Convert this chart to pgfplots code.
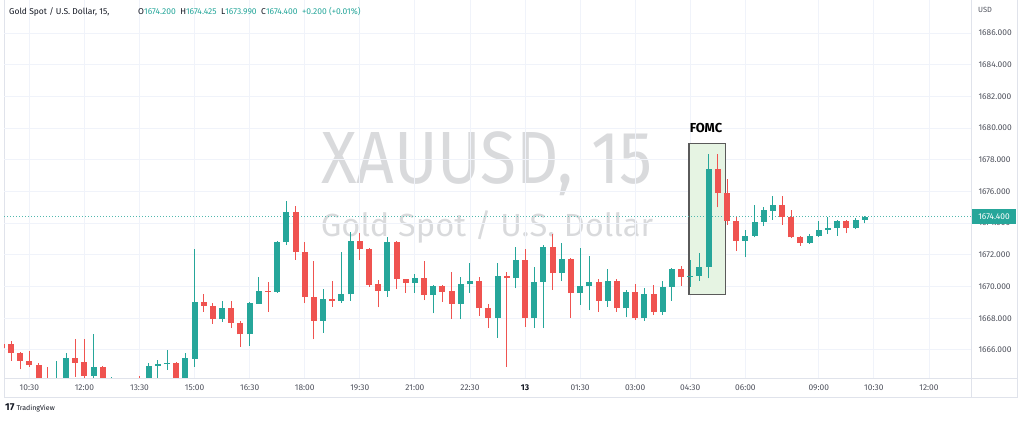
\documentclass[border=0pt]{standalone}
\usepackage{fontspec}
\setmainfont{Fira Sans}
\usepackage{pgfplots}
\usepackage{pgfplotstable}
\pgfplotsset{compat=1.18}

\definecolor{upc}{HTML}{26A69A}
\definecolor{dnc}{HTML}{EF5350}
\definecolor{gridc}{HTML}{F0F3FA}
\definecolor{framec}{HTML}{E0E3EB}
\definecolor{labc}{HTML}{50535E}
\definecolor{txtc}{HTML}{131722}
\definecolor{wmc}{HTML}{D9DADC}
\definecolor{fomcfill}{HTML}{E6F4E3}
\definecolor{fomcdraw}{HTML}{5A5A5A}

% 15-minute candles, k = candle index (k=0 -> 09:45)
\pgfplotstableread{
k o h l c
6 1663.50 1665.33 1663.30 1664.10
7 1664.00 1665.79 1663.80 1665.52
10 1664.38 1667.01 1664.20 1664.95
12 1663.50 1664.30 1663.30 1663.90
14 1663.40 1664.10 1663.20 1663.90
16 1663.60 1665.16 1663.50 1665.01
17 1664.99 1665.37 1664.00 1665.10
18 1665.10 1665.98 1664.74 1665.20
20 1664.10 1665.79 1663.90 1665.48
21 1665.43 1672.36 1664.95 1669.05
24 1667.94 1669.09 1667.77 1668.67
27 1666.99 1669.00 1666.25 1668.95
28 1668.90 1670.59 1668.90 1669.75
30 1669.66 1672.85 1669.60 1672.83
31 1672.80 1675.40 1672.62 1674.71
35 1667.83 1669.85 1667.09 1669.20
37 1669.09 1672.20 1668.98 1669.53
38 1669.51 1673.46 1669.09 1672.90
42 1669.74 1673.15 1669.36 1672.83
45 1670.23 1670.78 1669.62 1670.52
47 1669.47 1670.10 1668.31 1670.02
50 1668.92 1670.63 1667.94 1670.14
51 1670.14 1671.51 1669.62 1670.37
54 1668.04 1671.51 1666.78 1670.67
56 1670.52 1672.48 1669.89 1671.68
58 1668.04 1671.26 1667.37 1670.29
59 1670.29 1672.60 1667.37 1672.52
61 1670.84 1672.73 1670.35 1671.72
63 1669.58 1672.42 1668.84 1670.04
64 1670.04 1671.90 1668.50 1670.27
66 1669.11 1671.09 1668.73 1670.35
68 1668.63 1669.80 1668.06 1669.64
70 1668.00 1669.90 1667.85 1669.51
72 1668.42 1670.37 1668.21 1670.00
73 1670.00 1671.20 1669.11 1671.09
75 1670.60 1671.68 1670.00 1670.69
76 1670.67 1672.10 1670.37 1671.26
77 1671.26 1678.35 1670.52 1677.40
81 1672.88 1673.57 1671.85 1673.19
82 1673.19 1675.13 1673.10 1674.06
83 1674.06 1675.04 1673.82 1674.81
84 1674.79 1675.74 1674.20 1675.17
88 1672.77 1673.30 1672.70 1673.21
89 1673.21 1674.14 1673.15 1673.57
90 1673.57 1674.37 1673.31 1673.68
91 1673.68 1674.20 1673.21 1674.14
93 1673.68 1674.30 1673.60 1674.20
94 1674.20 1674.425 1673.99 1674.40
}\upcandles

\pgfplotstableread{
k o h l c
0 1666.40 1666.45 1665.90 1666.10
1 1666.37 1666.59 1665.33 1665.80
2 1665.79 1665.90 1664.78 1665.31
3 1665.33 1665.94 1664.95 1665.05
4 1665.07 1665.16 1663.80 1664.00
5 1664.10 1664.95 1663.50 1663.70
8 1665.52 1666.69 1664.30 1665.20
9 1665.22 1666.69 1664.25 1664.38
11 1664.95 1665.00 1663.80 1664.00
13 1663.80 1664.00 1663.20 1663.40
15 1663.90 1664.36 1663.40 1663.60
19 1665.20 1665.24 1663.90 1664.10
22 1669.05 1669.51 1668.42 1668.78
23 1668.78 1668.95 1667.64 1667.94
25 1668.67 1669.09 1667.37 1667.72
26 1667.72 1667.83 1666.21 1666.99
29 1669.75 1670.31 1668.42 1669.68
32 1674.71 1675.10 1671.68 1672.17
33 1672.17 1672.80 1668.95 1669.33
34 1669.33 1671.62 1666.67 1667.83
36 1669.20 1670.37 1668.73 1669.11
39 1672.90 1673.40 1671.66 1672.39
40 1672.39 1672.45 1670.00 1670.10
41 1670.14 1670.42 1668.69 1669.74
43 1672.83 1672.90 1669.83 1670.46
44 1670.46 1670.50 1669.62 1670.23
46 1670.56 1671.64 1669.15 1669.47
48 1670.02 1670.10 1669.05 1669.68
49 1669.70 1670.94 1667.94 1668.92
52 1670.37 1670.60 1668.15 1668.63
53 1668.63 1668.90 1667.37 1668.04
55 1670.67 1670.90 1664.95 1670.52
57 1671.68 1672.37 1667.47 1668.04
60 1672.52 1673.30 1669.79 1670.84
62 1671.72 1671.80 1668.00 1669.58
65 1670.27 1670.50 1668.42 1669.11
67 1670.35 1670.50 1668.42 1668.63
69 1669.64 1670.16 1667.90 1668.00
71 1669.51 1670.08 1668.21 1668.42
74 1671.09 1671.30 1670.04 1670.59
78 1677.40 1678.37 1675.00 1675.89
79 1675.93 1676.77 1673.89 1674.14
80 1674.14 1674.40 1672.27 1672.88
85 1675.17 1675.74 1673.89 1674.37
86 1674.41 1674.83 1673.05 1673.11
87 1673.15 1673.20 1672.58 1672.77
92 1674.14 1674.20 1673.36 1673.68
}\downcandles

\begin{document}
\begin{tikzpicture}[x=1pt,y=1pt]
\useasboundingbox (0,0) rectangle (1024,420);

% watermark
\node[text=wmc, font=\fontsize{74}{74}\selectfont, xscale=0.89] at (487,256) {XAUUSD, 15};
\node[text=wmc, font=\fontsize{32}{32}\selectfont, xscale=1.02] at (487,193) {Gold Spot / U.S. Dollar};

% chart frame
\draw[framec, line width=0.8pt] (4,420) -- (4,23) -- (1017,23) -- (1017,420);
\draw[framec, line width=0.8pt] (4,42) -- (1017,42);
\draw[framec, line width=0.8pt] (971,420) -- (971,23);

\begin{axis}[
  at={(4pt,42pt)}, anchor=south west,
  scale only axis, width=967pt, height=378pt,
  xmin=0.237, xmax=105.58, ymin=1664.23, ymax=1688.08,
  axis line style={draw=none},
  major tick length=0pt,
  xtick={3,9,15,21,27,33,39,45,51,57,63,69,75,81,89,95,101},
  xticklabels={10:30,12:00,13:30,15:00,16:30,18:00,19:30,21:00,22:30,{\textcolor{txtc}{\bfseries 13}},01:30,03:00,04:30,06:00,09:00,10:30,12:00},
  ytick={1666,1668,...,1686},
  yticklabel pos=right,
  yticklabel={\pgfmathprintnumber[fixed,fixed zerofill,precision=3,1000 sep={},assume math mode=true]{\tick}},
  grid=major,
  major grid style={gridc, line width=0.9pt},
  tick label style={font=\fontsize{8.4}{10}\selectfont, text=labc},
  xticklabel style={yshift=-3.5pt},
  yticklabel style={xshift=4pt},
]
% FOMC box
\addplot[fill=fomcfill, draw=fomcdraw, line width=1.1pt] coordinates {(74.86,1669.47) (78.79,1669.47) (78.79,1679.04) (74.86,1679.04)} -- cycle;

% last price line
\addplot[upc!80, dash pattern=on 1pt off 2pt, line width=0.7pt] coordinates {(0.237,1674.40) (105.58,1674.40)};

% wicks
\addplot[draw=none, mark=none, error bars/.cd, y dir=plus, y explicit, error mark=none,
  error bar style={draw=upc, line width=1pt}]
  table[x=k, y=l, y error plus expr={\thisrow{h}-\thisrow{l}}] {\upcandles};
\addplot[draw=none, mark=none, error bars/.cd, y dir=plus, y explicit, error mark=none,
  error bar style={draw=dnc, line width=1pt}]
  table[x=k, y=l, y error plus expr={\thisrow{h}-\thisrow{l}}] {\downcandles};
% bodies
\addplot[draw=none, mark=none, error bars/.cd, y dir=plus, y explicit, error mark=none,
  error bar style={draw=upc, line width=6pt}]
  table[x=k, y=o, y error plus expr={max(\thisrow{c}-\thisrow{o},0.07)}] {\upcandles};
\addplot[draw=none, mark=none, error bars/.cd, y dir=plus, y explicit, error mark=none,
  error bar style={draw=dnc, line width=6pt}]
  table[x=k, y=c, y error plus expr={max(\thisrow{o}-\thisrow{c},0.07)}] {\downcandles};
\end{axis}

% FOMC label
\node[font=\fontsize{13}{13}\selectfont\bfseries, text=black] at (706,292) {FOMC};

% header
\node[anchor=west, inner sep=0pt, font=\fontsize{8.5}{10}\selectfont, text=txtc] at (9,408) {Gold Spot / U.S. Dollar, 15,};
\node[anchor=west, inner sep=0pt, font=\fontsize{8.5}{10}\selectfont, text=txtc] at (138,408)
  {O\textcolor{upc}{1674.200}\hspace{4.5pt}H\textcolor{upc}{1674.425}\hspace{4.5pt}L\textcolor{upc}{1673.990}\hspace{4.5pt}C\textcolor{upc}{1674.400}\hspace{4.5pt}\textcolor{upc}{+0.200 (+0.01\%)}};

% price axis title and last price tag
\node[anchor=west, inner sep=0pt, font=\fontsize{7.5}{8}\selectfont, text=labc] at (978,410) {USD};
\fill[upc] (972,196) rectangle (1016,211);
\node[font=\fontsize{8.4}{10}\selectfont, text=white] at (994,203.5) {1674.400};

% logo
\node[anchor=west, inner sep=0pt, font=\fontsize{7}{8}\selectfont, text=txtc] at (5,12) {{\bfseries\fontsize{10}{10}\selectfont 17}\hspace{2pt}TradingView};
\end{tikzpicture}
\end{document}
